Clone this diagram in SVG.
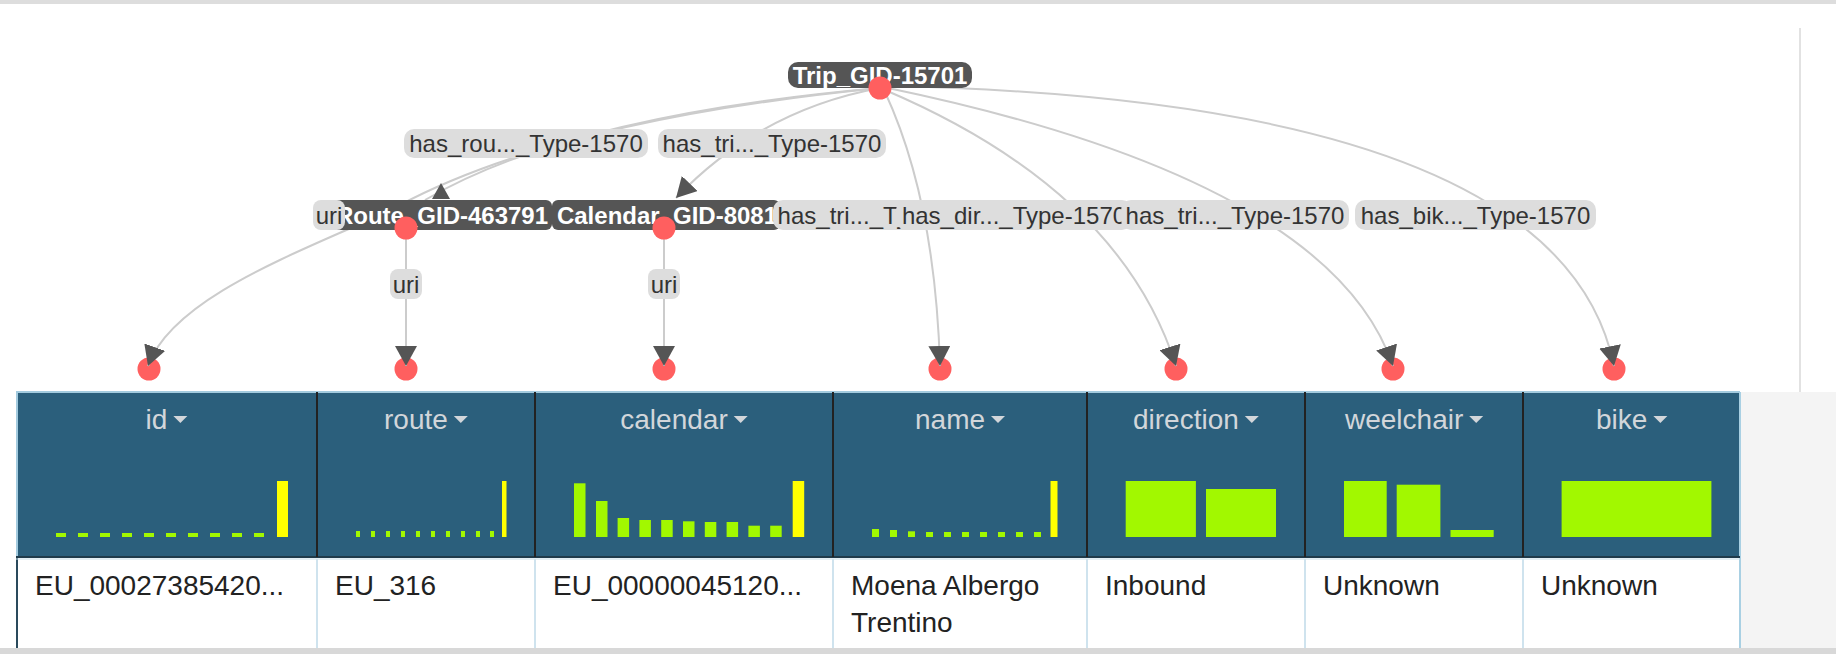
<svg xmlns="http://www.w3.org/2000/svg" width="1836" height="654" viewBox="0 0 1836 654">
<defs>
<style>
.edge{fill:none;stroke:#cccccc;stroke-width:2}
.node{fill:#555555}
.ntext{font-family:"Liberation Sans",Arial,sans-serif;font-size:24px;font-weight:bold;fill:#ffffff;text-anchor:middle}
.lbl{fill:#dddddd}
.ltext{font-family:"Liberation Sans",Arial,sans-serif;font-size:24px;fill:#333333;text-anchor:middle}
.dot{fill:#ff5f5f}
.hdr{font-family:"Liberation Sans",Arial,sans-serif;font-size:28px;fill:#d2d6da}
.cell{font-family:"Liberation Sans",Arial,sans-serif;font-size:28px;fill:#222222}
.g{fill:#a2f800}
.y{fill:#ffff00}
.tri{fill:#d2d6da}
.arrow{fill:#555555}
</style>
<marker id="arr" viewBox="0 0 20 22" refX="20" refY="11" markerWidth="20" markerHeight="22" markerUnits="userSpaceOnUse" orient="auto">
<path d="M0,0 L20,11 L0,22 z" fill="#555555"/>
</marker>
</defs>
<rect x="0" y="0" width="1836" height="654" fill="#ffffff"/>
<rect x="0" y="0" width="1836" height="4" fill="#dddddd"/>
<line x1="1800" y1="28" x2="1800" y2="392" stroke="#e2e2e2" stroke-width="2"/>

<!-- table -->
<g id="table">
<rect x="1740" y="392" width="96" height="256" fill="#f4f4f4"/>
<rect x="16" y="392" width="1724" height="165" fill="#2b5f7c"/>
<rect x="16" y="557" width="1724" height="91" fill="#ffffff"/>
<line x1="16" y1="392" x2="1740" y2="392" stroke="#a3cbdf" stroke-width="2"/>
<line x1="17" y1="392" x2="17" y2="557" stroke="#a3cbdf" stroke-width="2"/>
<line x1="1740" y1="392" x2="1740" y2="648" stroke="#a9d0e3" stroke-width="2"/>
<line x1="17" y1="557" x2="17" y2="648" stroke="#2a4a5c" stroke-width="2"/>
<line x1="16" y1="557" x2="1740" y2="557" stroke="#1f3b4b" stroke-width="2"/>
<line x1="16" y1="559" x2="1740" y2="559" stroke="#c6dde8" stroke-width="1"/>
<g stroke="#222222" stroke-width="2">
<line x1="317" y1="392" x2="317" y2="557"/>
<line x1="535" y1="392" x2="535" y2="557"/>
<line x1="833" y1="392" x2="833" y2="557"/>
<line x1="1087" y1="392" x2="1087" y2="557"/>
<line x1="1305" y1="392" x2="1305" y2="557"/>
<line x1="1523" y1="392" x2="1523" y2="557"/>
</g>
<g stroke="#cfe3ee" stroke-width="2">
<line x1="317" y1="559" x2="317" y2="648"/>
<line x1="535" y1="559" x2="535" y2="648"/>
<line x1="833" y1="559" x2="833" y2="648"/>
<line x1="1087" y1="559" x2="1087" y2="648"/>
<line x1="1305" y1="559" x2="1305" y2="648"/>
<line x1="1523" y1="559" x2="1523" y2="648"/>
</g>
<rect x="0" y="648" width="1836" height="6" fill="#d8d8d8"/>

<!-- headers -->
<text class="hdr" x="145.6" y="429">id</text><polygon class="tri" points="173.4,416 187.4,416 180.4,423"/>
<text class="hdr" x="384" y="429">route</text><polygon class="tri" points="453.8,416 467.8,416 460.8,423"/>
<text class="hdr" x="620.3" y="429">calendar</text><polygon class="tri" points="733.7,416 747.7,416 740.7,423"/>
<text class="hdr" x="915" y="429">name</text><polygon class="tri" points="991,416 1005,416 998,423"/>
<text class="hdr" x="1133" y="429">direction</text><polygon class="tri" points="1244.8,416 1258.8,416 1251.8,423"/>
<text class="hdr" x="1345" y="429">weelchair</text><polygon class="tri" points="1469.2,416 1483.2,416 1476.2,423"/>
<text class="hdr" x="1596" y="429">bike</text><polygon class="tri" points="1653.4,416 1667.4,416 1660.4,423"/>

<!-- histograms -->
<g id="hist-id">
<rect class="g" x="56" y="533" width="10" height="4"/><rect class="g" x="78" y="533" width="10" height="4"/><rect class="g" x="100" y="533" width="10" height="4"/><rect class="g" x="122" y="533" width="10" height="4"/><rect class="g" x="144" y="533" width="10" height="4"/><rect class="g" x="166" y="533" width="10" height="4"/><rect class="g" x="188" y="533" width="10" height="4"/><rect class="g" x="210" y="533" width="10" height="4"/><rect class="g" x="232" y="533" width="10" height="4"/><rect class="g" x="254" y="533" width="10" height="4"/>
<rect class="y" x="277" y="481" width="11" height="56"/>
</g>
<g id="hist-route">
<rect class="g" x="356" y="531" width="4" height="6"/><rect class="g" x="371" y="531" width="4" height="6"/><rect class="g" x="386" y="531" width="4" height="6"/><rect class="g" x="401" y="531" width="4" height="6"/><rect class="g" x="416" y="531" width="4" height="6"/><rect class="g" x="431" y="531" width="4" height="6"/><rect class="g" x="446" y="531" width="4" height="6"/><rect class="g" x="461" y="531" width="4" height="6"/><rect class="g" x="476" y="531" width="4" height="6"/><rect class="g" x="490" y="531" width="4" height="6"/>
<rect class="y" x="502" y="481" width="4.5" height="56"/>
</g>
<g id="hist-calendar">
<rect class="g" x="574" y="483.3" width="11.5" height="53.7"/>
<rect class="g" x="596" y="501" width="11.5" height="36"/>
<rect class="g" x="617.6" y="518" width="11.5" height="19"/>
<rect class="g" x="639.4" y="520" width="11.5" height="17"/>
<rect class="g" x="661.2" y="520" width="11.5" height="17"/>
<rect class="g" x="683" y="521.3" width="11.5" height="15.7"/>
<rect class="g" x="704.8" y="522" width="11.5" height="15"/>
<rect class="g" x="726.6" y="522" width="11.5" height="15"/>
<rect class="g" x="748.4" y="525.7" width="11.5" height="11.3"/>
<rect class="g" x="770.2" y="525.7" width="11.5" height="11.3"/>
<rect class="y" x="792.7" y="481" width="11.5" height="56"/>
</g>
<g id="hist-name">
<rect class="g" x="872" y="529" width="7" height="8"/><rect class="g" x="890" y="530" width="7" height="7"/><rect class="g" x="908" y="531.3" width="7" height="5.7"/><rect class="g" x="926" y="532" width="7" height="5"/><rect class="g" x="944" y="532" width="7" height="5"/><rect class="g" x="962" y="532" width="7" height="5"/><rect class="g" x="980" y="532" width="7" height="5"/><rect class="g" x="998" y="532" width="7" height="5"/><rect class="g" x="1016" y="532" width="7" height="5"/><rect class="g" x="1034" y="532" width="7" height="5"/>
<rect class="y" x="1050.5" y="481" width="7" height="56"/>
</g>
<g id="hist-direction">
<rect class="g" x="1125.7" y="481" width="70.2" height="56"/>
<rect class="g" x="1206" y="489" width="70" height="48"/>
</g>
<g id="hist-weelchair">
<rect class="g" x="1344" y="481" width="42.7" height="56"/>
<rect class="g" x="1396.7" y="484.7" width="43.7" height="52.3"/>
<rect class="g" x="1450.5" y="530" width="43.2" height="7"/>
</g>
<g id="hist-bike">
<rect class="g" x="1561.6" y="481" width="149.8" height="56"/>
</g>

<!-- row -->
<text class="cell" x="35" y="595">EU_00027385420...</text>
<text class="cell" x="335" y="595">EU_316</text>
<text class="cell" x="553" y="595">EU_00000045120...</text>
<text class="cell" x="851" y="595">Moena Albergo</text>
<text class="cell" x="851" y="632">Trentino</text>
<text class="cell" x="1105" y="595">Inbound</text>
<text class="cell" x="1323" y="595">Unknown</text>
<text class="cell" x="1541" y="595">Unknown</text>
</g>

<!-- bottom nodes -->
<g id="node-id"><circle class="dot" cx="149" cy="369" r="11.5"/></g>
<g id="node-route-uri"><circle class="dot" cx="406" cy="369" r="11.5"/></g>
<g id="node-calendar-uri"><circle class="dot" cx="664" cy="369" r="11.5"/></g>
<g id="node-name"><circle class="dot" cx="940" cy="369" r="11.5"/></g>
<g id="node-direction"><circle class="dot" cx="1176" cy="369" r="11.5"/></g>
<g id="node-weelchair"><circle class="dot" cx="1393" cy="369" r="11.5"/></g>
<g id="node-bike"><circle class="dot" cx="1614" cy="369" r="11.5"/></g>

<!-- connectors -->
<g id="connectors">
<path class="edge" d="M880,88 Q570,115 425,200"/>
<path class="edge" d="M880,88 Q560,120 400,205 C330,242 175,290 148,366" marker-end="url(#arr)"/>
<path class="edge" d="M880,88 Q760,110 676,198" marker-end="url(#arr)"/>
<path class="edge" d="M406,228 L406,366" marker-end="url(#arr)"/>
<path class="edge" d="M664,228 L664,366" marker-end="url(#arr)"/>
<path class="edge" d="M885,92 Q935,200 940,366" marker-end="url(#arr)"/>
<path class="edge" d="M885,90 Q1120,190 1176,366" marker-end="url(#arr)"/>
<path class="edge" d="M888,88 Q1330,180 1393,366" marker-end="url(#arr)"/>
<path class="edge" d="M888,86 Q1560,100 1614,366" marker-end="url(#arr)"/>
</g>

<!-- top node -->
<g id="node-trip">
<rect class="node" x="788" y="62" width="184" height="26" rx="10"/>
<text class="ntext" x="880" y="83.5">Trip_GID-15701</text>
</g>

<!-- edge labels top row -->
<g id="label-has-route">
<rect class="lbl" x="404" y="129" width="244" height="29" rx="10"/>
<text class="ltext" x="526" y="151.5">has_rou..._Type-1570</text>
</g>
<g id="label-has-calendar">
<rect class="lbl" x="658" y="129" width="228" height="29" rx="10"/>
<text class="ltext" x="772" y="151.5">has_tri..._Type-1570</text>
</g>

<!-- middle row -->
<g id="node-route">
<rect class="node" x="330" y="200" width="222" height="30" rx="6"/>
<text class="ntext" x="442" y="223.5">Route_GID-463791</text>
</g>
<g id="label-uri-id">
<rect class="lbl" x="313" y="200" width="32" height="30" rx="8"/>
<text class="ltext" x="329" y="223.5">uri</text>
</g>
<g id="node-calendar">
<rect class="node" x="552" y="200" width="228" height="30" rx="6"/>
<text class="ntext" x="667" y="223.5">Calendar_GID-8081</text>
</g>
<g id="label-has-name">
<rect class="lbl" x="773" y="200" width="228" height="30" rx="10"/>
<text class="ltext" x="887" y="223.5">has_tri..._Type-1570</text>
</g>
<g id="label-has-direction">
<rect class="lbl" x="896" y="200" width="236" height="30" rx="10"/>
<text class="ltext" x="1014" y="223.5">has_dir..._Type-1570</text>
</g>
<g id="label-has-wheelchair">
<rect class="lbl" x="1121" y="200" width="228" height="30" rx="10"/>
<text class="ltext" x="1235" y="223.5">has_tri..._Type-1570</text>
</g>
<g id="label-has-bike">
<rect class="lbl" x="1355" y="200" width="241" height="30" rx="10"/>
<text class="ltext" x="1475.5" y="223.5">has_bik..._Type-1570</text>
</g>

<g id="label-uri-route">
<rect class="lbl" x="390" y="269" width="32" height="30" rx="8"/>
<text class="ltext" x="406" y="292.5">uri</text>
</g>
<g id="label-uri-calendar">
<rect class="lbl" x="648" y="269" width="32" height="30" rx="8"/>
<text class="ltext" x="664" y="292.5">uri</text>
</g>

<g id="anchors">
<polygon class="arrow" points="441,183 432,199 450,199"/>
<circle class="dot" cx="880" cy="88" r="11.5"/>
<circle class="dot" cx="406" cy="228" r="11.5"/>
<circle class="dot" cx="664" cy="228" r="11.5"/>
</g>
</svg>
